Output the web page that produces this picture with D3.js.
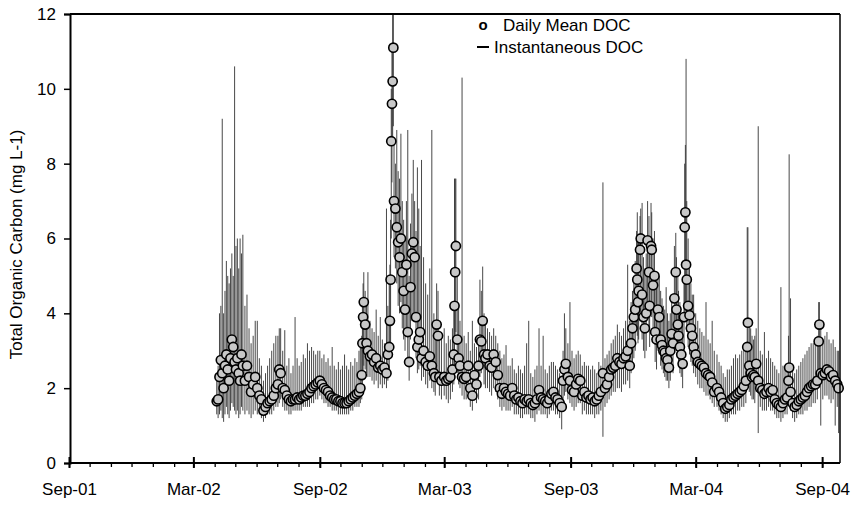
<!DOCTYPE html>
<html><head><meta charset="utf-8">
<script src="https://cdn.jsdelivr.net/npm/d3@7"></script>
<style>body{margin:0;background:#fff}svg{display:block}text{font-family:Arial,"Liberation Sans",Helvetica,sans-serif;fill:#000}</style>
</head><body><svg id="chart" width="858" height="505"></svg>
<script>
const dates = ["2002-04-04","2002-04-06","2002-04-08","2002-04-10","2002-04-12","2002-04-14","2002-04-16","2002-04-18","2002-04-20","2002-04-22","2002-04-24","2002-04-26","2002-04-28","2002-04-30",
"2002-05-02","2002-05-04","2002-05-06","2002-05-08","2002-05-10","2002-05-12","2002-05-15","2002-05-18","2002-05-21","2002-05-24","2002-05-27","2002-05-30",
"2002-06-02","2002-06-05","2002-06-08","2002-06-11","2002-06-14","2002-06-17","2002-06-20","2002-06-23","2002-06-26","2002-06-29",
"2002-07-02","2002-07-04","2002-07-06","2002-07-09","2002-07-12","2002-07-15","2002-07-18","2002-07-21","2002-07-24","2002-07-27","2002-07-30",
"2002-08-02","2002-08-05","2002-08-08","2002-08-11","2002-08-14","2002-08-17","2002-08-20","2002-08-23","2002-08-26","2002-08-29",
"2002-09-01","2002-09-04","2002-09-07","2002-09-10","2002-09-13","2002-09-16","2002-09-19","2002-09-22","2002-09-25","2002-09-28",
"2002-10-01","2002-10-04","2002-10-07","2002-10-10","2002-10-13","2002-10-16","2002-10-19","2002-10-22","2002-10-25","2002-10-28","2002-10-30",
"2002-11-01","2002-11-02","2002-11-03","2002-11-04","2002-11-06","2002-11-08","2002-11-10","2002-11-13","2002-11-16","2002-11-19","2002-11-22","2002-11-25","2002-11-28",
"2002-12-01","2002-12-04","2002-12-07","2002-12-09","2002-12-11","2002-12-12","2002-12-13","2002-12-14","2002-12-15","2002-12-16","2002-12-17","2002-12-18","2002-12-20","2002-12-22","2002-12-24","2002-12-26","2002-12-28","2002-12-30",
"2003-01-01","2003-01-03","2003-01-05","2003-01-07","2003-01-09","2003-01-11","2003-01-13","2003-01-15","2003-01-17","2003-01-19","2003-01-21","2003-01-23","2003-01-25","2003-01-27","2003-01-30",
"2003-02-02","2003-02-05","2003-02-08","2003-02-11","2003-02-14","2003-02-16","2003-02-18","2003-02-20","2003-02-22","2003-02-25",
"2003-03-01","2003-03-04","2003-03-07","2003-03-10","2003-03-13","2003-03-15","2003-03-16","2003-03-17","2003-03-18","2003-03-20","2003-03-22","2003-03-24","2003-03-27","2003-03-30",
"2003-04-02","2003-04-05","2003-04-08","2003-04-11","2003-04-14","2003-04-17","2003-04-20","2003-04-22","2003-04-24","2003-04-26","2003-04-28","2003-04-30",
"2003-05-03","2003-05-06","2003-05-09","2003-05-12","2003-05-15","2003-05-18","2003-05-21","2003-05-24","2003-05-27","2003-05-30",
"2003-06-02","2003-06-05","2003-06-08","2003-06-11","2003-06-14","2003-06-17","2003-06-20","2003-06-23","2003-06-26","2003-06-29",
"2003-07-02","2003-07-05","2003-07-08","2003-07-11","2003-07-14","2003-07-17","2003-07-20","2003-07-23","2003-07-26","2003-07-29",
"2003-08-01","2003-08-04","2003-08-07","2003-08-10","2003-08-13","2003-08-16","2003-08-19","2003-08-21","2003-08-23","2003-08-25","2003-08-28","2003-08-31",
"2003-09-03","2003-09-06","2003-09-09","2003-09-12","2003-09-15","2003-09-18","2003-09-21","2003-09-24","2003-09-27","2003-09-30",
"2003-10-03","2003-10-06","2003-10-09","2003-10-12","2003-10-15","2003-10-18","2003-10-21","2003-10-24","2003-10-27","2003-10-30",
"2003-11-02","2003-11-05","2003-11-08","2003-11-11","2003-11-14","2003-11-17","2003-11-20","2003-11-23","2003-11-26","2003-11-28","2003-11-30",
"2003-12-02","2003-12-04","2003-12-06","2003-12-07","2003-12-08","2003-12-09","2003-12-11","2003-12-12","2003-12-14","2003-12-16","2003-12-18","2003-12-20","2003-12-22","2003-12-24","2003-12-25","2003-12-27","2003-12-28","2003-12-30",
"2004-01-01","2004-01-02","2004-01-04","2004-01-06","2004-01-08","2004-01-10","2004-01-12","2004-01-14","2004-01-16","2004-01-18","2004-01-20","2004-01-22","2004-01-24","2004-01-26","2004-01-28","2004-01-30",
"2004-02-01","2004-02-02","2004-02-04","2004-02-05","2004-02-07","2004-02-09","2004-02-11","2004-02-13","2004-02-14","2004-02-15","2004-02-16","2004-02-17","2004-02-19","2004-02-21","2004-02-23","2004-02-25","2004-02-27",
"2004-03-01","2004-03-04","2004-03-07","2004-03-10","2004-03-13","2004-03-16","2004-03-19","2004-03-22","2004-03-25","2004-03-28",
"2004-04-01","2004-04-04","2004-04-07","2004-04-10","2004-04-13","2004-04-16","2004-04-19","2004-04-22","2004-04-25","2004-04-28",
"2004-05-01","2004-05-04","2004-05-07","2004-05-10","2004-05-13","2004-05-15","2004-05-16","2004-05-18","2004-05-20","2004-05-22","2004-05-24","2004-05-26","2004-05-28","2004-05-31",
"2004-06-03","2004-06-06","2004-06-09","2004-06-12","2004-06-15","2004-06-18","2004-06-21","2004-06-24","2004-06-27","2004-06-30",
"2004-07-03","2004-07-06","2004-07-09","2004-07-12","2004-07-14","2004-07-15","2004-07-17","2004-07-20","2004-07-23","2004-07-26","2004-07-29",
"2004-08-01","2004-08-04","2004-08-07","2004-08-10","2004-08-13","2004-08-16","2004-08-19","2004-08-22","2004-08-25","2004-08-27","2004-08-28","2004-08-30",
"2004-09-02","2004-09-05","2004-09-08","2004-09-11","2004-09-14","2004-09-17","2004-09-20","2004-09-23","2004-09-25"];

const meanDOC = [1.65,1.7,2.3,2.75,2.4,2.0,2.6,2.9,2.5,2.2,2.8,3.3,3.1,2.7,
2.5,2.8,2.4,2.2,2.9,2.6,2.2,2.6,2.3,1.9,2.1,2.3,
2.0,1.8,1.7,1.4,1.5,1.6,1.65,1.7,1.8,2.0,
2.1,2.5,2.4,2.0,1.95,1.8,1.7,1.65,1.7,1.7,1.75,
1.7,1.75,1.8,1.8,1.85,1.9,2.0,2.05,2.1,2.15,
2.2,2.1,2.0,1.95,1.9,1.8,1.75,1.7,1.7,1.65,
1.65,1.6,1.6,1.6,1.65,1.7,1.75,1.8,1.85,1.9,2.0,
2.35,3.2,3.9,4.3,3.7,3.2,3.0,2.85,2.9,2.7,2.8,2.55,2.6,
2.5,2.55,2.4,2.9,3.1,3.8,4.9,8.6,9.6,10.2,11.1,7.0,6.8,6.3,5.9,5.5,6.0,5.1,
4.6,4.1,5.3,3.5,2.7,4.7,5.6,5.9,5.5,3.9,3.1,3.3,3.5,2.8,3.0,
2.7,2.6,2.85,2.6,2.4,2.3,3.7,3.4,2.3,2.2,
2.3,2.2,2.25,2.3,2.5,2.9,4.2,5.1,5.8,3.3,2.8,2.6,2.3,2.25,
2.3,2.6,2.0,1.8,2.35,2.1,2.6,3.3,3.25,3.8,2.9,2.8,
2.9,2.6,2.55,2.9,2.7,2.35,2.0,1.85,2.0,1.9,
1.85,1.8,2.0,1.8,1.7,1.75,1.65,1.6,1.7,1.65,
1.7,1.6,1.55,1.6,1.7,1.95,1.75,1.7,1.65,1.6,
1.7,1.85,1.9,1.75,1.7,1.6,1.5,2.2,2.5,2.65,2.3,2.2,
1.95,1.9,2.1,2.25,2.2,1.8,1.9,1.75,1.8,1.7,
1.75,1.65,1.7,1.8,1.9,2.4,2.0,2.1,2.3,2.5,
2.55,2.6,2.8,2.7,2.65,2.8,2.85,3.0,2.6,3.2,3.6,
3.9,4.1,5.2,4.9,4.3,4.6,5.7,6.0,4.5,3.9,3.6,4.0,5.95,5.1,4.2,5.8,5.7,4.75,
5.0,3.5,3.3,4.1,3.9,3.3,3.15,3.0,2.95,2.8,2.75,2.55,3.0,3.45,3.2,4.4,
5.1,4.1,3.7,3.4,3.1,2.9,2.65,3.9,6.3,6.7,5.3,4.9,4.2,3.95,3.6,3.4,3.1,
2.9,2.7,2.65,2.6,2.55,2.4,2.35,2.3,2.15,1.9,
2.0,1.9,1.75,1.6,1.45,1.5,1.55,1.7,1.75,1.8,
1.85,1.9,1.95,2.05,2.2,3.1,3.75,2.6,2.4,2.3,2.35,2.3,2.65,2.2,
2.0,1.95,1.85,1.9,2.0,1.9,1.95,1.7,1.6,1.55,
1.5,1.6,1.7,1.75,2.2,2.55,1.9,1.6,1.5,1.55,1.65,
1.7,1.75,1.8,1.9,2.0,2.05,2.1,2.1,2.2,3.25,3.7,2.4,
2.35,2.4,2.5,2.45,2.3,2.35,2.2,2.1,2.0];

const instMin = [1.3,1.2,1.3,1.4,1.2,1.1,1.3,1.5,1.3,1.2,1.4,1.6,1.5,1.4,
1.3,1.4,1.2,1.3,1.5,1.4,1.3,1.4,1.3,1.2,1.3,1.4,
1.3,1.3,1.2,1.1,1.2,1.3,1.3,1.3,1.4,1.5,
1.5,1.6,1.7,1.5,1.4,1.4,1.3,1.3,1.4,1.4,1.4,
1.4,1.4,1.5,1.5,1.5,1.5,1.6,1.6,1.7,1.7,
1.8,1.7,1.6,1.6,1.5,1.5,1.4,1.4,1.4,1.3,
1.3,1.3,1.3,1.3,1.3,1.4,1.4,1.5,1.5,1.5,1.6,
1.7,2.0,2.4,2.6,2.5,2.4,2.3,2.3,2.2,2.1,2.2,2.0,2.1,
2.0,2.1,2.0,2.2,2.4,2.8,3.2,6.0,7.5,8.5,9.0,5.5,5.2,4.8,4.2,4.0,4.3,3.6,
3.3,3.0,3.6,2.6,2.2,3.3,3.8,4.0,3.8,2.8,2.4,2.5,2.6,2.2,2.3,
2.1,2.0,2.2,2.0,1.9,1.8,2.4,2.3,1.8,1.7,
1.8,1.7,1.6,1.7,1.9,2.1,2.6,3.2,3.5,2.4,2.1,2.0,1.8,1.7,
1.7,1.9,1.5,1.4,1.7,1.6,1.7,2.3,2.4,2.6,2.1,2.0,
2.0,1.9,1.8,2.0,1.9,1.7,1.5,1.4,1.5,1.4,
1.4,1.4,1.5,1.3,1.3,1.3,1.2,1.2,1.3,1.3,
1.3,1.2,1.2,1.1,1.3,1.4,1.3,1.3,1.3,1.2,
1.3,1.4,1.4,1.3,1.3,1.2,0.9,1.6,1.8,1.9,1.7,1.6,
1.5,1.4,1.5,1.6,1.6,1.3,1.4,1.3,1.3,1.3,
1.3,1.2,1.3,1.3,1.4,0.7,1.5,1.6,1.7,1.8,
1.9,1.9,2.0,2.0,1.9,2.1,2.1,2.2,2.0,2.4,2.6,
2.8,3.0,3.6,3.4,3.2,3.3,3.8,4.0,3.3,3.0,2.8,3.0,4.0,3.6,3.1,4.0,3.9,3.4,
3.5,2.7,2.5,3.0,2.9,2.6,2.5,2.4,2.3,2.2,2.2,2.0,2.2,2.5,2.4,3.0,
3.4,3.0,2.8,2.6,2.4,2.3,2.0,2.8,4.0,4.3,3.8,3.5,3.1,2.9,2.7,2.6,2.4,
2.3,2.1,2.0,2.0,1.9,1.8,1.8,1.7,1.6,1.5,
1.5,1.4,1.3,1.2,1.1,1.1,1.2,1.3,1.3,1.3,
1.4,1.4,1.5,1.5,1.6,2.1,2.5,1.9,1.8,1.7,1.7,1.6,1.9,0.8,
1.5,1.4,1.4,1.4,1.5,1.4,1.4,1.3,1.2,1.2,
1.1,1.2,1.3,1.3,1.6,1.8,1.4,1.2,1.1,1.2,1.3,
1.3,1.3,1.4,1.4,1.5,1.5,1.6,1.6,1.7,2.2,2.4,1.0,
1.7,1.8,1.8,1.7,1.6,1.7,1.0,1.5,0.8];

const instMax = [2.3,2.6,4.0,4.2,9.2,4.0,4.6,5.4,5.0,4.8,5.2,5.6,5.0,10.6,
5.8,6.0,5.2,6.0,5.6,6.1,4.2,4.5,3.6,3.2,3.4,3.8,
3.8,2.8,2.6,2.2,2.4,2.6,2.8,3.0,3.2,3.4,
3.4,3.6,3.6,3.0,3.55,2.6,2.8,2.4,2.6,3.9,2.8,
2.6,2.7,2.9,2.8,3.2,3.0,3.1,3.0,2.9,3.0,
3.0,2.8,2.9,2.7,2.8,2.6,3.1,2.6,2.5,2.7,
2.5,2.6,2.9,2.6,2.5,2.7,2.6,2.8,2.7,3.0,3.2,
3.4,4.2,4.8,5.1,4.6,4.2,5.1,3.8,3.6,3.5,4.1,3.4,3.9,
3.3,3.2,6.8,4.2,4.8,5.3,6.5,10.0,11.0,12.0,12.0,8.6,8.0,8.9,7.8,7.6,8.8,7.0,
6.5,6.0,7.0,8.9,5.0,6.4,7.2,8.1,7.0,6.2,7.9,6.8,5.8,8.1,5.5,
4.8,4.5,5.2,8.9,4.0,3.8,4.8,4.6,3.5,3.4,
3.6,3.2,3.4,3.3,3.6,4.2,7.6,7.6,7.6,5.0,4.2,3.8,10.3,3.4,
3.2,3.5,3.0,3.8,3.2,3.1,3.4,4.9,4.6,5.25,4.0,3.7,
3.6,3.5,3.4,3.6,3.4,3.2,3.0,2.8,2.9,3.15,
2.6,2.6,2.8,2.5,2.4,2.6,2.5,2.4,2.6,3.2,
3.8,2.4,2.3,2.5,2.6,3.6,2.6,3.4,2.5,2.4,
2.6,2.7,2.7,2.6,2.5,2.4,2.3,3.0,4.0,3.6,3.2,4.3,
3.0,2.8,2.9,3.0,2.9,2.6,2.7,2.6,2.6,2.5,
2.6,2.5,2.4,2.7,2.6,7.5,2.8,2.9,3.0,3.2,
3.3,3.4,3.7,3.5,3.4,3.6,3.8,5.3,3.8,4.3,4.6,
5.0,5.4,6.2,6.7,6.0,6.0,6.6,6.8,6.95,5.5,5.2,5.6,7.0,6.6,6.0,6.95,6.7,6.0,
6.2,5.0,4.8,5.0,5.0,4.6,4.4,4.2,4.1,4.7,4.0,3.8,4.0,4.4,4.2,5.8,
6.15,5.5,5.0,4.6,4.3,4.0,3.8,5.0,8.0,8.5,10.8,7.0,6.0,5.2,4.8,4.5,4.5,
4.0,3.8,3.6,3.5,3.4,4.3,3.3,3.2,3.8,3.0,
2.9,2.7,2.6,2.4,2.3,2.5,2.5,2.6,2.8,2.9,
2.8,2.9,3.0,3.1,3.2,6.3,6.3,3.8,3.6,3.4,3.3,3.4,3.6,9.0,
3.0,2.9,3.5,2.8,3.0,2.8,2.7,2.6,2.5,2.4,
4.7,2.6,2.5,2.6,3.4,8.25,4.4,2.6,2.4,2.5,2.6,
2.7,2.8,2.9,3.0,3.1,3.2,3.2,3.3,3.4,4.3,4.3,3.6,
3.3,3.4,3.5,3.3,3.2,3.3,3.1,3.0,3.0];

const yTicks = [0, 2, 4, 6, 8, 10, 12];
const xMajorTicks = ["2001-09-01","2002-03-01","2002-09-01","2003-03-01","2003-09-01","2004-03-01","2004-09-01"];
const xTickLabels = ["Sep-01","Mar-02","Sep-02","Mar-03","Sep-03","Mar-04","Sep-04"];
const seriesNames = ["Daily Mean DOC", "Instantaneous DOC"];
const yTitle = "Total Organic Carbon (mg L-1)";

const parse = d3.timeParse("%Y-%m-%d");
const data = dates.map((d, i) => ({date: parse(d), mean: meanDOC[i], lo: instMin[i], hi: instMax[i]}));

const svg = d3.select("#chart");
const L = 70, R = 840, T = 14, B = 463;
const x = d3.scaleTime().domain([parse("2001-09-01"), parse("2004-09-27")]).range([69, 840]);
const y = d3.scaleLinear().domain([0, 12]).range([B, T]);

// instantaneous DOC ranges
svg.append("g").selectAll("line").data(data).join("line")
  .attr("x1", d => x(d.date)).attr("x2", d => x(d.date))
  .attr("y1", d => y(d.lo)).attr("y2", d => y(d.hi))
  .attr("stroke", "#333").attr("stroke-width", 0.9);

// daily means
svg.append("g").selectAll("circle").data(data).join("circle")
  .attr("cx", d => x(d.date)).attr("cy", d => y(d.mean)).attr("r", 4.6)
  .attr("fill", "#c8c8c8").attr("stroke", "#000").attr("stroke-width", 1.6);

// frame top/right
svg.append("line").attr("x1", L).attr("x2", R).attr("y1", T).attr("y2", T).attr("stroke", "#000").attr("stroke-width", 2);
svg.append("line").attr("x1", R).attr("x2", R).attr("y1", T).attr("y2", B).attr("stroke", "#000").attr("stroke-width", 1.5);

// y axis
const yAxis = svg.append("g").attr("transform", `translate(${L},0)`)
  .call(d3.axisLeft(y).tickValues(yTicks).tickSize(6).tickPadding(8).tickFormat(d3.format("d")));
yAxis.select(".domain").attr("stroke-width", 2);
yAxis.selectAll(".tick line").attr("stroke-width", 1.5);
yAxis.selectAll("text").style("font-size", "17px");

// x axis minor (monthly)
const months = d3.timeMonth.range(parse("2001-09-01"), parse("2004-09-02"));
svg.append("g").attr("transform", `translate(0,${B})`)
  .call(d3.axisBottom(x).tickValues(months).tickSize(4).tickFormat(""))
  .call(g => g.select(".domain").remove())
  .selectAll(".tick line").attr("stroke-width", 1.3);
// x axis major
const majors = xMajorTicks.map(parse);
const xAxis = svg.append("g").attr("transform", `translate(0,${B})`)
  .call(d3.axisBottom(x).tickValues(majors).tickSize(5).tickPadding(15).tickFormat((d, i) => xTickLabels[i]));
xAxis.select(".domain").attr("d", `M${L - 1},0H${R}`).attr("stroke-width", 2);
xAxis.selectAll(".tick line").attr("stroke-width", 2);
xAxis.selectAll("text").style("font-size", "17px");
svg.append("g").attr("transform", `translate(0,${B})`)
  .call(d3.axisTop(x).tickValues(majors).tickSize(6).tickFormat(""))
  .call(g => g.select(".domain").remove())
  .selectAll(".tick line").attr("stroke-width", 2);

// y title
svg.append("text").attr("transform", `translate(22,${(T + B) / 2 + 6}) rotate(-90)`)
  .attr("text-anchor", "middle").style("font-size", "17px").text(yTitle);

// legend
const lg = svg.append("g");
lg.append("text").attr("x", 483).attr("y", 30).attr("text-anchor", "middle").style("font-size", "15px").style("font-weight", "bold").text("o");
lg.append("text").attr("x", 503).attr("y", 31).style("font-size", "17px").text(seriesNames[0]);
lg.append("line").attr("x1", 477).attr("x2", 489).attr("y1", 47).attr("y2", 47).attr("stroke", "#000").attr("stroke-width", 2);
lg.append("text").attr("x", 494).attr("y", 53).style("font-size", "17px").text(seriesNames[1]);
</script></body></html>
